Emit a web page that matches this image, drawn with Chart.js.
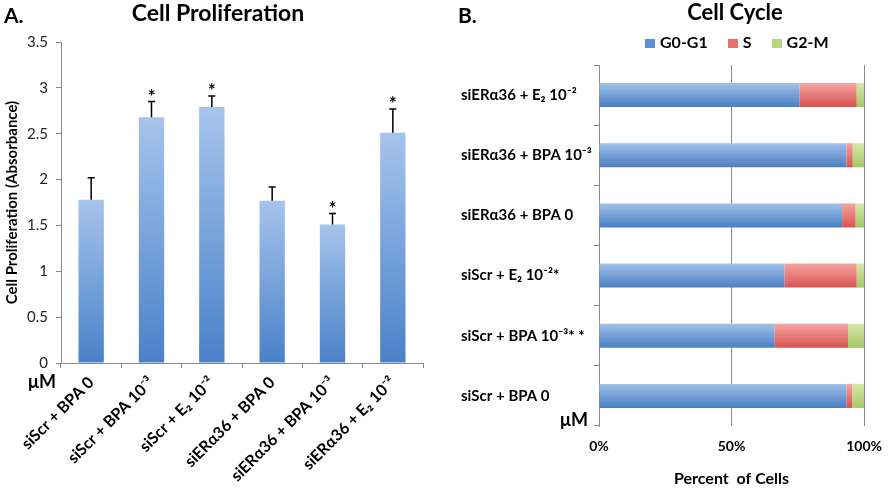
<!DOCTYPE html>
<html>
<head>
<meta charset="utf-8">
<script src="https://cdn.jsdelivr.net/npm/chart.js@4.4.0/dist/chart.umd.min.js"></script>
<style>
    body { margin: 0; background: #fff; width: 894px; height: 490px; position: relative; overflow: hidden; font-family: Lato, sans-serif; }
    .panel { position: absolute; top: 0; height: 490px; }
    #panelA { left: 0; width: 440px; }
    #panelB { left: 440px; width: 454px; }
    .tag { position: absolute; font-weight: bold; color: #000; line-height: 1; white-space: nowrap; }
    .ttl { transform: translateX(-50%); font-size: 22px; }
    #cycleLegend { position: absolute; left: 645px; top: 34px; display: flex; gap: 20px; font: bold 16px Lato, sans-serif; line-height: 16px; color: #000; }
    #cycleLegend span { display: flex; align-items: center; gap: 5px; white-space: nowrap; }
    #cycleLegend i { display: inline-block; width: 10px; height: 9px; margin-top: 2px; }
</style>
</head>
<body>
<div class="panel" id="panelA"><canvas id="profChart" width="440" height="490"></canvas></div>
<div class="panel" id="panelB"><canvas id="cycleChart" width="454" height="490"></canvas></div>
<div class="tag" style="left:4px;top:4px;font-size:21px">A.</div>
<div class="tag" style="left:458px;top:4px;font-size:21px">B.</div>
<div class="tag ttl" style="left:218px;top:1px;font-size:23px">Cell Proliferation</div>
<div class="tag ttl" style="left:735px;top:1px">Cell Cycle</div>
<div id="cycleLegend"></div>
<div class="tag" style="left:28px;top:372px;font-size:18px">μM</div>
<div class="tag" style="left:560px;top:410px;font-size:18px">μM</div>
<script>
// Panel A - cell proliferation
const profLabels = ['siScr + BPA 0', 'siScr + BPA 10⁻³', 'siScr + E₂ 10⁻²', 'siERα36 + BPA 0', 'siERα36 + BPA 10⁻³', 'siERα36 + E₂ 10⁻²'];
const profMeans = [1.78, 2.68, 2.79, 1.77, 1.51, 2.51];
const profErrors = [0.24, 0.17, 0.12, 0.15, 0.12, 0.26];
const profStars = ['', '*', '*', '', '*', '*'];

// Panel B - cell cycle (percent of cells)
const cycleLabels = ['siERα36 + E₂ 10⁻²', 'siERα36 + BPA 10⁻³', 'siERα36 + BPA 0', 'siScr + E₂ 10⁻²*', 'siScr + BPA 10⁻³* *', 'siScr + BPA 0'];
const phaseNames = ['G0-G1', 'S', 'G2-M'];
const g0g1 = [75.7, 93.3, 91.7, 70.0, 66.3, 93.3];
const sPhase = [21.5, 2.4, 5.1, 27.2, 27.7, 2.2];
const g2m = [2.8, 4.3, 3.2, 2.8, 6.0, 4.5];

const FONT = 'Lato';
const axisGray = '#8a8a8a';

// colours: [light top, dark bottom]
const profShade = ['#a6c4eb', '#4a81c9'];
const cycleShades = [['#a2c0ea', '#4a7fc2'], ['#f6a5a2', '#d8534f'], ['#d6e9a9', '#a5c766']];
const legendColors = ['#5b8fd2', '#e8706c', '#b9d67e'];

function vGradient(ctx, top, bottom, light, dark) {
    const g = ctx.createLinearGradient(0, top, 0, bottom);
    g.addColorStop(0, light);
    g.addColorStop(1, dark);
    return g;
}

// error bars + significance stars for panel A
const errorBars = {
    id: 'errorBars',
    afterDatasetsDraw(chart) {
        const { ctx, scales: { x, y } } = chart;
        ctx.save();
        ctx.strokeStyle = '#000';
        ctx.fillStyle = '#000';
        ctx.lineWidth = 1.5;
        ctx.font = 'bold 18px ' + FONT;
        ctx.textAlign = 'center';
        ctx.textBaseline = 'alphabetic';
        profMeans.forEach((m, i) => {
            const cx = x.getPixelForValue(i);
            const y0 = y.getPixelForValue(m);
            const y1 = y.getPixelForValue(m + profErrors[i]);
            ctx.beginPath();
            ctx.moveTo(cx, y0);
            ctx.lineTo(cx, y1);
            ctx.moveTo(cx - 3.5, y1);
            ctx.lineTo(cx + 3.5, y1);
            ctx.stroke();
            if (profStars[i]) ctx.fillText(profStars[i], cx, y1 + 1);
        });
        ctx.restore();
    }
};

new Chart(document.getElementById('profChart'), {
    type: 'bar',
    data: {
        labels: profLabels,
        datasets: [{
            label: 'Cell Proliferation',
            data: profMeans,
            barPercentage: 0.42,
            categoryPercentage: 1,
            backgroundColor: c => {
                const chart = c.chart;
                if (!chart.chartArea || c.raw === undefined) return '#7da6dc';
                const y = chart.scales.y;
                return vGradient(chart.ctx, y.getPixelForValue(c.raw), y.getPixelForValue(0), profShade[0], profShade[1]);
            }
        }]
    },
    options: {
        responsive: false,
        animation: false,
        layout: { padding: { left: 0, right: 17, top: 42, bottom: 0 } },
        plugins: {
            legend: { display: false },
            tooltip: { enabled: false }
        },
        scales: {
            y: {
                min: 0,
                max: 3.5,
                ticks: { stepSize: 0.5, padding: 8, color: '#222', callback: v => String(v), font: { family: FONT, size: 15 } },
                grid: { drawOnChartArea: false, tickLength: 5, color: axisGray },
                border: { color: axisGray },
                title: {
                    display: true,
                    text: 'Cell Proliferation (Absorbance)',
                    color: '#000',
                    font: { family: FONT, size: 15, weight: 'bold' },
                    padding: { top: 3, bottom: 0 }
                },
                afterFit: s => { s.width = 61; }
            },
            x: {
                ticks: { autoSkip: false, minRotation: 45, maxRotation: 45, padding: 5, color: '#000', font: { family: FONT, size: 16, weight: 'bold' } },
                grid: { drawOnChartArea: false, tickLength: 5, color: axisGray },
                border: { color: axisGray },
                afterFit: s => { s.height = 127; }
            }
        }
    },
    plugins: [errorBars]
});

// Panel B
const phaseData = [g0g1, sPhase, g2m];

// legend for panel B, built from the phase names
document.getElementById('cycleLegend').innerHTML = phaseNames
    .map((name, k) => `<span><i style="background:${legendColors[k]}"></i>${name}</span>`)
    .join('');

new Chart(document.getElementById('cycleChart'), {
    type: 'bar',
    data: {
        labels: cycleLabels,
        datasets: phaseNames.map((name, k) => ({
            label: name,
            data: phaseData[k],
            barPercentage: 0.4,
            categoryPercentage: 1,
            backgroundColor: c => {
                const chart = c.chart;
                if (!chart.chartArea || c.dataIndex === undefined) return legendColors[k];
                const y = chart.scales.y;
                const cy = y.getPixelForValue(c.dataIndex);
                const half = (y.height / cycleLabels.length) * 0.4 / 2;
                return vGradient(chart.ctx, cy - half, cy + half, cycleShades[k][0], cycleShades[k][1]);
            }
        }))
    },
    options: {
        indexAxis: 'y',
        responsive: false,
        animation: false,
        layout: { padding: { left: 21, right: 22, top: 65, bottom: 0 } },
        plugins: {
            tooltip: { enabled: false },
            legend: { display: false }
        },
        scales: {
            x: {
                stacked: true,
                min: 0,
                max: 100,
                ticks: { stepSize: 50, padding: 12, color: '#000', callback: v => v + '%', font: { family: FONT, size: 14, weight: 'bold' } },
                grid: { drawTicks: false, color: axisGray },
                border: { display: false },
                title: {
                    display: true,
                    text: 'Percent  of Cells',
                    color: '#000',
                    font: { family: FONT, size: 16, weight: 'bold' },
                    padding: { top: 0, bottom: 2 }
                },
                afterFit: s => { s.height = 64; }
            },
            y: {
                stacked: true,
                ticks: { crossAlign: 'far', color: '#000', font: { family: FONT, size: 15, weight: 'bold' } },
                grid: { drawOnChartArea: false, tickLength: 5, color: axisGray },
                border: { color: axisGray },
                afterFit: s => { s.width = 138; }
            }
        }
    }
});
</script>
</body>
</html>
